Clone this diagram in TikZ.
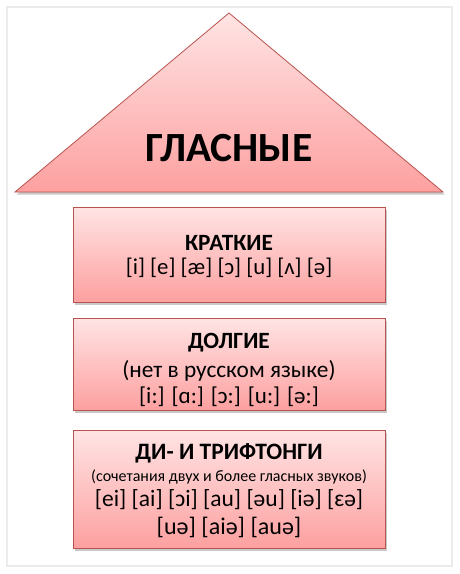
\documentclass[tikz,border=0pt]{standalone}
\usepackage{fontspec}
\setmainfont{Carlito}
\usetikzlibrary{shadows}
\definecolor{edgered}{HTML}{B85450}
\definecolor{toppink}{HTML}{FFE4E4}
\definecolor{botpink}{HTML}{FDA0A0}
\tikzset{
  pinkbox/.style={draw=edgered, line width=0.8pt, top color=toppink, bottom color=botpink,
    drop shadow={shadow xshift=1.5pt, shadow yshift=-2.5pt, opacity=0.35, fill=black!60}},
  lbl/.style={inner sep=0pt, align=center, text=black}
}
\begin{document}
\begin{tikzpicture}[x=1pt,y=-1pt]
\useasboundingbox (0,0) rectangle (460,574);
\fill[white] (0,0) rectangle (460,574);
% outer frame
\draw[black!8, line width=2pt] (7,7) rectangle (452,566);
% roof
\path[pinkbox] (229,13) -- (443,192) -- (15,192) -- cycle;
\node[lbl, font=\fontsize{41.5}{46}\selectfont\bfseries] (title) at (229,148) {ГЛАСНЫЕ};
% boxes
\node[pinkbox, minimum width=312pt, minimum height=95pt, inner sep=0pt] (b1) at (229,254.5) {};
\node[pinkbox, minimum width=312pt, minimum height=92pt, inner sep=0pt] (b2) at (229,364) {};
\node[pinkbox, minimum width=312pt, minimum height=118pt, inner sep=0pt] (b3) at (229,489) {};
% box 1
\node[lbl, font=\fontsize{23.3}{26}\selectfont\bfseries] (k1) at (229,243) {КРАТКИЕ};
\node[lbl, font=\fontsize{22.8}{26}\selectfont] (k2) at (229,268) {[i] [e] [æ] [ɔ] [u] [ʌ] [ə]};
% box 2
\node[lbl, font=\fontsize{23.3}{26}\selectfont\bfseries] (d1) at (229,343) {ДОЛГИЕ};
\node[lbl, font=\fontsize{23.3}{26}\selectfont] (d2) at (229,371) {(нет в русском языке)};
\node[lbl, font=\fontsize{23}{26}\selectfont] (d3) at (229,397) {[i:] [ɑ:] [ɔ:] [u:] [ə:]};
% box 3
\node[lbl, font=\fontsize{23.5}{28}\selectfont\bfseries] (t1) at (229,453) {ДИ- И ТРИФТОНГИ};
\node[lbl, font=\fontsize{16}{19}\selectfont] (t2) at (229,477) {(сочетания двух и более гласных звуков)};
\node[lbl, font=\fontsize{23.5}{28}\selectfont] (t3) at (229,500) {[ei] [ai] [ɔi] [au] [əu] [iə] [ɛə]};
\node[lbl, font=\fontsize{24}{28}\selectfont] (t4) at (229,527) {[uə] [aiə] [auə]};
\end{tikzpicture}
\end{document}
